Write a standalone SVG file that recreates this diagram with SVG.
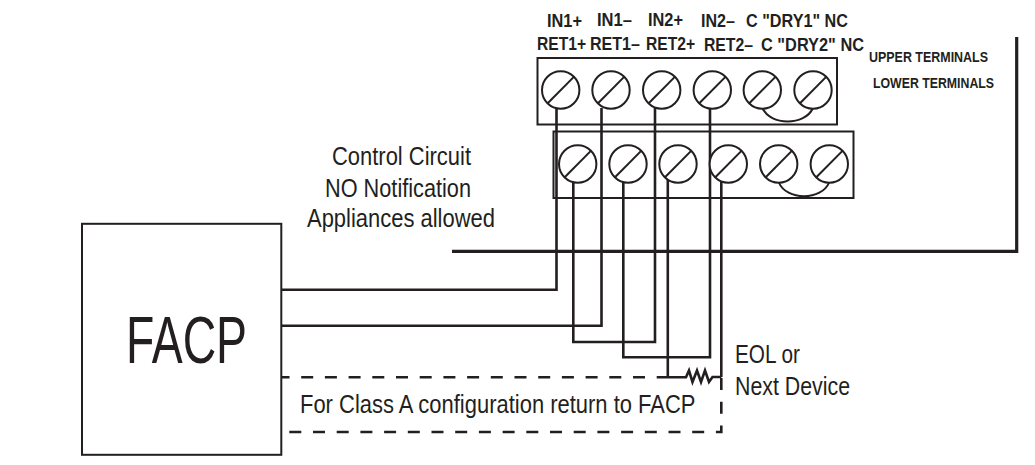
<svg xmlns="http://www.w3.org/2000/svg" width="1035" height="465" viewBox="0 0 1035 465">
<style>
.w{fill:none;stroke:#231f20;stroke-width:2.6}
.k{fill:none;stroke:#231f20;stroke-width:3.2}
.d{fill:none;stroke:#231f20;stroke-width:2.6;stroke-dasharray:12 11.7}
.b{fill:none;stroke:#231f20;stroke-width:2}
.s{fill:#fff;stroke:#231f20;stroke-width:2}
.t{font-family:"Liberation Sans",Arial,sans-serif;fill:#231f20}
.n{font-size:26.5px}
.e{font-size:25.5px}
.l{font-size:18px;font-weight:bold}
.u{font-size:15.5px;font-weight:bold}
</style>
<defs>
<g id="screw"><circle r="18.7" class="s"/><path d="M-13 13.2L13.4-13.4" class="b"/></g>
</defs>
<rect width="1035" height="465" fill="#fff"/>
<g id="upper-terminals">
<rect x="537.5" y="58" width="299.5" height="66.5" class="b"/>
</g>
<g id="lower-terminals">
<rect x="553.5" y="131.5" width="300" height="66.5" class="b"/>
</g>
<g id="connectors">
<path d="M452 251.3H1016.7V37" class="k"/>
<path d="M556.5 108V289.7H282" class="w"/>
<path d="M601.5 108V325.7H282" class="w"/>
<path d="M573.3 182V342H655V108" class="w"/>
<path d="M623.3 182V357.3H710V108" class="w"/>
<path d="M667.8 178V377.3" class="w"/>
<path d="M721.3 182V377" class="w"/>
<path d="M668 377.3H686L689 370.5L692.5 382L697 370.5L701 382L705 370.5L709 382L712.5 377H721.3" class="w"/>
<path d="M282 377.3H668" class="d" stroke-dashoffset="4.5"/>
<path d="M289.3 432H721.3V377" class="d"/>
<path d="M762.5 108C770 126 805 126 813 108" class="b"/>
<path d="M778.7 182C786 201 822 201 829.3 182" class="b"/>
</g>
<g id="upper-screws">
<use href="#screw" x="560.7" y="90"/>
<use href="#screw" x="611" y="90"/>
<use href="#screw" x="661.7" y="90"/>
<use href="#screw" x="712.3" y="90"/>
<use href="#screw" x="762.3" y="90"/>
<use href="#screw" x="813" y="90"/>
</g>
<g id="lower-screws">
<use href="#screw" x="577.7" y="164"/>
<use href="#screw" x="628" y="164"/>
<use href="#screw" x="678" y="164"/>
<use href="#screw" x="728.3" y="164"/>
<use href="#screw" x="778.7" y="164"/>
<use href="#screw" x="829.3" y="164"/>
</g>
<g id="facp">
<rect x="82" y="223.8" width="199.3" height="231" class="b"/>
<text x="126" y="362.5" class="t" font-size="66" textLength="121" lengthAdjust="spacingAndGlyphs">FACP</text>
</g>
<g id="labels">
<text x="547" y="26.5" class="t l" textLength="35" lengthAdjust="spacingAndGlyphs">IN1+</text>
<text x="597" y="25.5" class="t l" textLength="35" lengthAdjust="spacingAndGlyphs">IN1–</text>
<text x="648" y="25.5" class="t l" textLength="35" lengthAdjust="spacingAndGlyphs">IN2+</text>
<text x="701" y="26.5" class="t l" textLength="34" lengthAdjust="spacingAndGlyphs">IN2–</text>
<text x="746" y="26.5" class="t l" textLength="102" lengthAdjust="spacingAndGlyphs">C "DRY1" NC</text>
<text x="537" y="50" class="t l" textLength="49" lengthAdjust="spacingAndGlyphs">RET1+</text>
<text x="590" y="50" class="t l" textLength="50" lengthAdjust="spacingAndGlyphs">RET1–</text>
<text x="646" y="50" class="t l" textLength="49" lengthAdjust="spacingAndGlyphs">RET2+</text>
<text x="704" y="51" class="t l" textLength="49" lengthAdjust="spacingAndGlyphs">RET2–</text>
<text x="761" y="51" class="t l" textLength="103" lengthAdjust="spacingAndGlyphs">C "DRY2" NC</text>
<text x="869" y="62" class="t u" textLength="119" lengthAdjust="spacingAndGlyphs">UPPER TERMINALS</text>
<text x="873" y="88" class="t u" textLength="121" lengthAdjust="spacingAndGlyphs">LOWER TERMINALS</text>
<text x="332" y="165" class="t n" textLength="139" lengthAdjust="spacingAndGlyphs">Control Circuit</text>
<text x="325" y="197" class="t n" textLength="146" lengthAdjust="spacingAndGlyphs">NO Notification</text>
<text x="307" y="227" class="t n" textLength="188" lengthAdjust="spacingAndGlyphs">Appliances allowed</text>
<text x="735" y="362.5" class="t e" textLength="65" lengthAdjust="spacingAndGlyphs">EOL or</text>
<text x="735" y="395" class="t e" textLength="115" lengthAdjust="spacingAndGlyphs">Next Device</text>
<text transform="translate(300 413) scale(.829 1)" class="t n">For Class A configuration return to FACP</text>
</g>
</svg>
